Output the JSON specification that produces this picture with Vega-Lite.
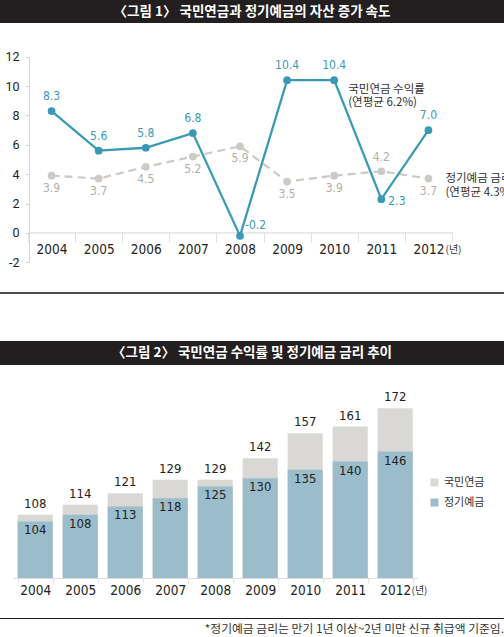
{
  "$schema": "https://vega.github.io/schema/vega-lite/v6.json",
  "padding": 0,
  "autosize": {"type": "pad"},
  "background": "white",
  "spacing": 0,
  "bounds": "flush",
  "config": {"view": {"stroke": null}, "font": "Noto Sans CJK KR"},
  "datasets": {
    "one": [{"k": 1}],
    "rate": [
      {"year": 2004, "series": "국민연금", "value": 8.3},
      {"year": 2005, "series": "국민연금", "value": 5.6},
      {"year": 2006, "series": "국민연금", "value": 5.8},
      {"year": 2007, "series": "국민연금", "value": 6.8},
      {"year": 2008, "series": "국민연금", "value": -0.2},
      {"year": 2009, "series": "국민연금", "value": 10.4},
      {"year": 2010, "series": "국민연금", "value": 10.4},
      {"year": 2011, "series": "국민연금", "value": 2.3},
      {"year": 2012, "series": "국민연금", "value": 7.0},
      {"year": 2004, "series": "정기예금", "value": 3.9},
      {"year": 2005, "series": "정기예금", "value": 3.7},
      {"year": 2006, "series": "정기예금", "value": 4.5},
      {"year": 2007, "series": "정기예금", "value": 5.2},
      {"year": 2008, "series": "정기예금", "value": 5.9},
      {"year": 2009, "series": "정기예금", "value": 3.5},
      {"year": 2010, "series": "정기예금", "value": 3.9},
      {"year": 2011, "series": "정기예금", "value": 4.2},
      {"year": 2012, "series": "정기예금", "value": 3.7}
    ],
    "asset": [
      {"year": 2004, "series": "국민연금", "value": 108},
      {"year": 2005, "series": "국민연금", "value": 114},
      {"year": 2006, "series": "국민연금", "value": 121},
      {"year": 2007, "series": "국민연금", "value": 129},
      {"year": 2008, "series": "국민연금", "value": 129},
      {"year": 2009, "series": "국민연금", "value": 142},
      {"year": 2010, "series": "국민연금", "value": 157},
      {"year": 2011, "series": "국민연금", "value": 161},
      {"year": 2012, "series": "국민연금", "value": 172},
      {"year": 2004, "series": "정기예금", "value": 104},
      {"year": 2005, "series": "정기예금", "value": 108},
      {"year": 2006, "series": "정기예금", "value": 113},
      {"year": 2007, "series": "정기예금", "value": 118},
      {"year": 2008, "series": "정기예금", "value": 125},
      {"year": 2009, "series": "정기예금", "value": 130},
      {"year": 2010, "series": "정기예금", "value": 135},
      {"year": 2011, "series": "정기예금", "value": 140},
      {"year": 2012, "series": "정기예금", "value": 146}
    ]
  },
  "vconcat": [
    {
      "width": 504, "height": 23,
      "view": {"fill": "#231f20", "stroke": null},
      "data": {"name": "one"},
      "mark": {"type": "text", "text": "〈그림 1〉 국민연금과 정기예금의 자산 증가 속도", "font": "Noto Sans CJK KR", "fontWeight": "bold", "fontSize": 13.5, "color": "white"},
      "encoding": {}
    },
    {
      "width": 504, "height": 269,
      "data": {"name": "rate"},
      "encoding": {
        "x": {
          "field": "year", "type": "ordinal",
          "scale": {"type": "band", "domain": [2004, 2005, 2006, 2007, 2008, 2009, 2010, 2011, 2012], "range": [28, 452], "paddingInner": 0, "paddingOuter": 0},
          "axis": {"orient": "bottom", "offset": -59.6, "title": "(년)", "titleX": 445, "titleY": 17, "titleAlign": "left", "titleBaseline": "middle", "titleFontSize": 10, "titleFontWeight": "normal", "titleFont": "Noto Sans CJK KR", "titleColor": "#333", "labelAngle": 0, "labelFont": "DejaVu Sans Condensed, Roboto, sans-serif", "labelFontSize": 13.5, "labelColor": "#222", "labelPadding": 0, "tickSize": 10, "tickColor": "#e2e2e2", "tickBand": "extent", "domainColor": "#d6d6d6"}
        },
        "y": {
          "field": "value", "type": "quantitative",
          "scale": {"domain": [-2, 12], "range": [239.3, 33.7], "nice": false, "zero": false},
          "axis": {"orient": "left", "offset": -29, "values": [-2, 0, 2, 4, 6, 8, 10, 12], "labelExpr": "'' + datum.value", "title": null, "labelFont": "Roboto", "labelFontSize": 12.5, "labelColor": "#222", "labelPadding": 6, "tickSize": 4, "tickColor": "#d6d6d6", "domainColor": "#d6d6d6", "grid": false}
        }
      },
      "layer": [
        {"transform": [{"filter": "datum.series === '정기예금'"}], "mark": {"type": "line", "color": "#cdc9c5", "strokeWidth": 2.2, "strokeDash": [8, 5]}},
        {"transform": [{"filter": "datum.series === '정기예금'"}], "mark": {"type": "point", "filled": true, "color": "#cdc9c5", "size": 60, "opacity": 1}},
        {"transform": [{"filter": "datum.series === '정기예금' && datum.year !== 2011"}], "mark": {"type": "text", "baseline": "top", "dy": 7, "color": "#b3aeaa", "font": "DejaVu Sans Condensed, Roboto, sans-serif", "fontSize": 12}, "encoding": {"text": {"field": "value", "type": "quantitative", "format": ".1f"}}},
        {"transform": [{"filter": "datum.series === '정기예금' && datum.year === 2011"}], "mark": {"type": "text", "baseline": "bottom", "dy": -7, "color": "#b3aeaa", "font": "DejaVu Sans Condensed, Roboto, sans-serif", "fontSize": 12}, "encoding": {"text": {"field": "value", "type": "quantitative", "format": ".1f"}}},
        {"transform": [{"filter": "datum.series === '국민연금'"}], "mark": {"type": "line", "color": "#3a9ab3", "strokeWidth": 2.3}},
        {"transform": [{"filter": "datum.series === '국민연금'"}], "mark": {"type": "point", "filled": true, "color": "#3a9ab3", "size": 60, "opacity": 1}},
        {"transform": [{"filter": "datum.series === '국민연금' && datum.year !== 2008 && datum.year !== 2011"}], "mark": {"type": "text", "baseline": "bottom", "dy": -8, "color": "#3a9ab3", "font": "DejaVu Sans Condensed, Roboto, sans-serif", "fontSize": 12}, "encoding": {"text": {"field": "value", "type": "quantitative", "format": ".1f"}}},
        {"transform": [{"filter": "datum.series === '국민연금' && datum.year === 2008"}], "mark": {"type": "text", "align": "left", "baseline": "middle", "dx": 5, "dy": -11, "color": "#3a9ab3", "font": "DejaVu Sans Condensed, Roboto, sans-serif", "fontSize": 12}, "encoding": {"text": {"field": "value", "type": "nominal"}}},
        {"transform": [{"filter": "datum.series === '국민연금' && datum.year === 2011"}], "mark": {"type": "text", "align": "left", "baseline": "middle", "dx": 7, "dy": 2, "color": "#3a9ab3", "font": "DejaVu Sans Condensed, Roboto, sans-serif", "fontSize": 12}, "encoding": {"text": {"field": "value", "type": "quantitative", "format": ".1f"}}},
        {"transform": [{"filter": "datum.series === '국민연금' && datum.year === 2010"}], "mark": {"type": "text", "text": "국민연금 수익률", "align": "left", "baseline": "middle", "dx": 14, "dy": 9.5, "fontSize": 11.5, "font": "Noto Sans CJK KR", "color": "#333"}},
        {"transform": [{"filter": "datum.series === '국민연금' && datum.year === 2010"}], "mark": {"type": "text", "text": "(연평균 6.2%)", "align": "left", "baseline": "middle", "dx": 14, "dy": 23, "fontSize": 11.5, "font": "Noto Sans CJK KR", "color": "#333"}},
        {"transform": [{"filter": "datum.series === '정기예금' && datum.year === 2012"}], "mark": {"type": "text", "text": "정기예금 금리", "align": "left", "baseline": "middle", "dx": 17, "dy": 0, "fontSize": 11.5, "font": "Noto Sans CJK KR", "color": "#333"}},
        {"transform": [{"filter": "datum.series === '정기예금' && datum.year === 2012"}], "mark": {"type": "text", "text": "(연평균 4.3%)", "align": "left", "baseline": "middle", "dx": 17, "dy": 14, "fontSize": 11.5, "font": "Noto Sans CJK KR", "color": "#333"}}
      ]
    },
    {
      "width": 504, "height": 2,
      "view": {"fill": "#4d4d4d", "stroke": null},
      "data": {"name": "one"},
      "mark": {"type": "text", "text": ""},
      "encoding": {}
    },
    {
      "width": 504, "height": 47,
      "data": {"name": "one"},
      "mark": {"type": "text", "text": ""},
      "encoding": {}
    },
    {
      "width": 504, "height": 24,
      "view": {"fill": "#231f20", "stroke": null},
      "data": {"name": "one"},
      "mark": {"type": "text", "text": "〈그림 2〉 국민연금 수익률 및 정기예금 금리 추이", "font": "Noto Sans CJK KR", "fontWeight": "bold", "fontSize": 13.5, "color": "white"},
      "encoding": {}
    },
    {
      "width": 504, "height": 213,
      "data": {"name": "asset"},
      "encoding": {
        "x": {
          "field": "year", "type": "ordinal",
          "scale": {"type": "band", "domain": [2004, 2005, 2006, 2007, 2008, 2009, 2010, 2011, 2012], "range": [12.7, 417.7], "paddingInner": 0.22, "paddingOuter": 0.11},
          "axis": {"orient": "bottom", "title": "(년)", "titleX": 411, "titleY": 12, "titleAlign": "left", "titleBaseline": "middle", "titleFontSize": 10, "titleFontWeight": "normal", "titleFont": "Noto Sans CJK KR", "titleColor": "#333", "labelAngle": 0, "labelFont": "DejaVu Sans Condensed, Roboto, sans-serif", "labelFontSize": 13.5, "labelColor": "#222", "labelPadding": 0, "tickSize": 5, "tickColor": "#e2e2e2", "tickBand": "extent", "domainColor": "#dcdcdc"}
        },
        "y": {"field": "value", "type": "quantitative", "scale": {"domain": [70, 198], "nice": false, "zero": false}, "axis": null}
      },
      "layer": [
        {"transform": [{"filter": "datum.series === '국민연금'"}], "mark": {"type": "bar"},
         "encoding": {"y2": {"datum": 70},
           "color": {"field": "series", "type": "nominal", "scale": {"domain": ["국민연금", "정기예금"], "range": ["#d9d8d4", "#9bbdcb"]},
           "legend": {"orient": "none", "legendX": 429, "legendY": 477, "title": null, "symbolType": "square", "symbolSize": 64, "symbolStrokeWidth": 0, "labelFont": "Noto Sans CJK KR", "labelFontSize": 11, "labelColor": "#333", "rowPadding": 8, "labelOffset": 4}}}},
        {"transform": [{"filter": "datum.series === '정기예금'"}], "mark": {"type": "bar"},
         "encoding": {"y2": {"datum": 70},
           "color": {"field": "series", "type": "nominal", "scale": {"domain": ["국민연금", "정기예금"], "range": ["#d9d8d4", "#9bbdcb"]},
           "legend": {"orient": "none", "legendX": 429, "legendY": 477, "title": null, "symbolType": "square", "symbolSize": 64, "symbolStrokeWidth": 0, "labelFont": "Noto Sans CJK KR", "labelFontSize": 11, "labelColor": "#333", "rowPadding": 8, "labelOffset": 4}}}},
        {"transform": [{"filter": "datum.series === '국민연금'"}], "mark": {"type": "text", "baseline": "bottom", "dy": -4, "color": "#222", "font": "DejaVu Sans Condensed, Roboto, sans-serif", "fontSize": 13}, "encoding": {"text": {"field": "value", "type": "quantitative"}}},
        {"transform": [{"filter": "datum.series === '정기예금'"}], "mark": {"type": "text", "baseline": "top", "dy": 3, "color": "#222", "font": "DejaVu Sans Condensed, Roboto, sans-serif", "fontSize": 13}, "encoding": {"text": {"field": "value", "type": "quantitative"}}}
      ]
    },
    {
      "width": 504, "height": 40,
      "data": {"name": "one"},
      "mark": {"type": "text", "text": ""},
      "encoding": {}
    },
    {
      "width": 504, "height": 1,
      "view": {"fill": "#222222", "stroke": null},
      "data": {"name": "one"},
      "mark": {"type": "text", "text": ""},
      "encoding": {},
      "title": {"text": "*정기예금 금리는 만기 1년 이상~2년 미만 신규 취급액 기준임.", "orient": "bottom", "anchor": "end", "font": "Noto Sans CJK KR", "fontSize": 11.8, "fontWeight": "normal", "color": "#333", "offset": 0, "baseline": "top"}
    }
  ]
}
